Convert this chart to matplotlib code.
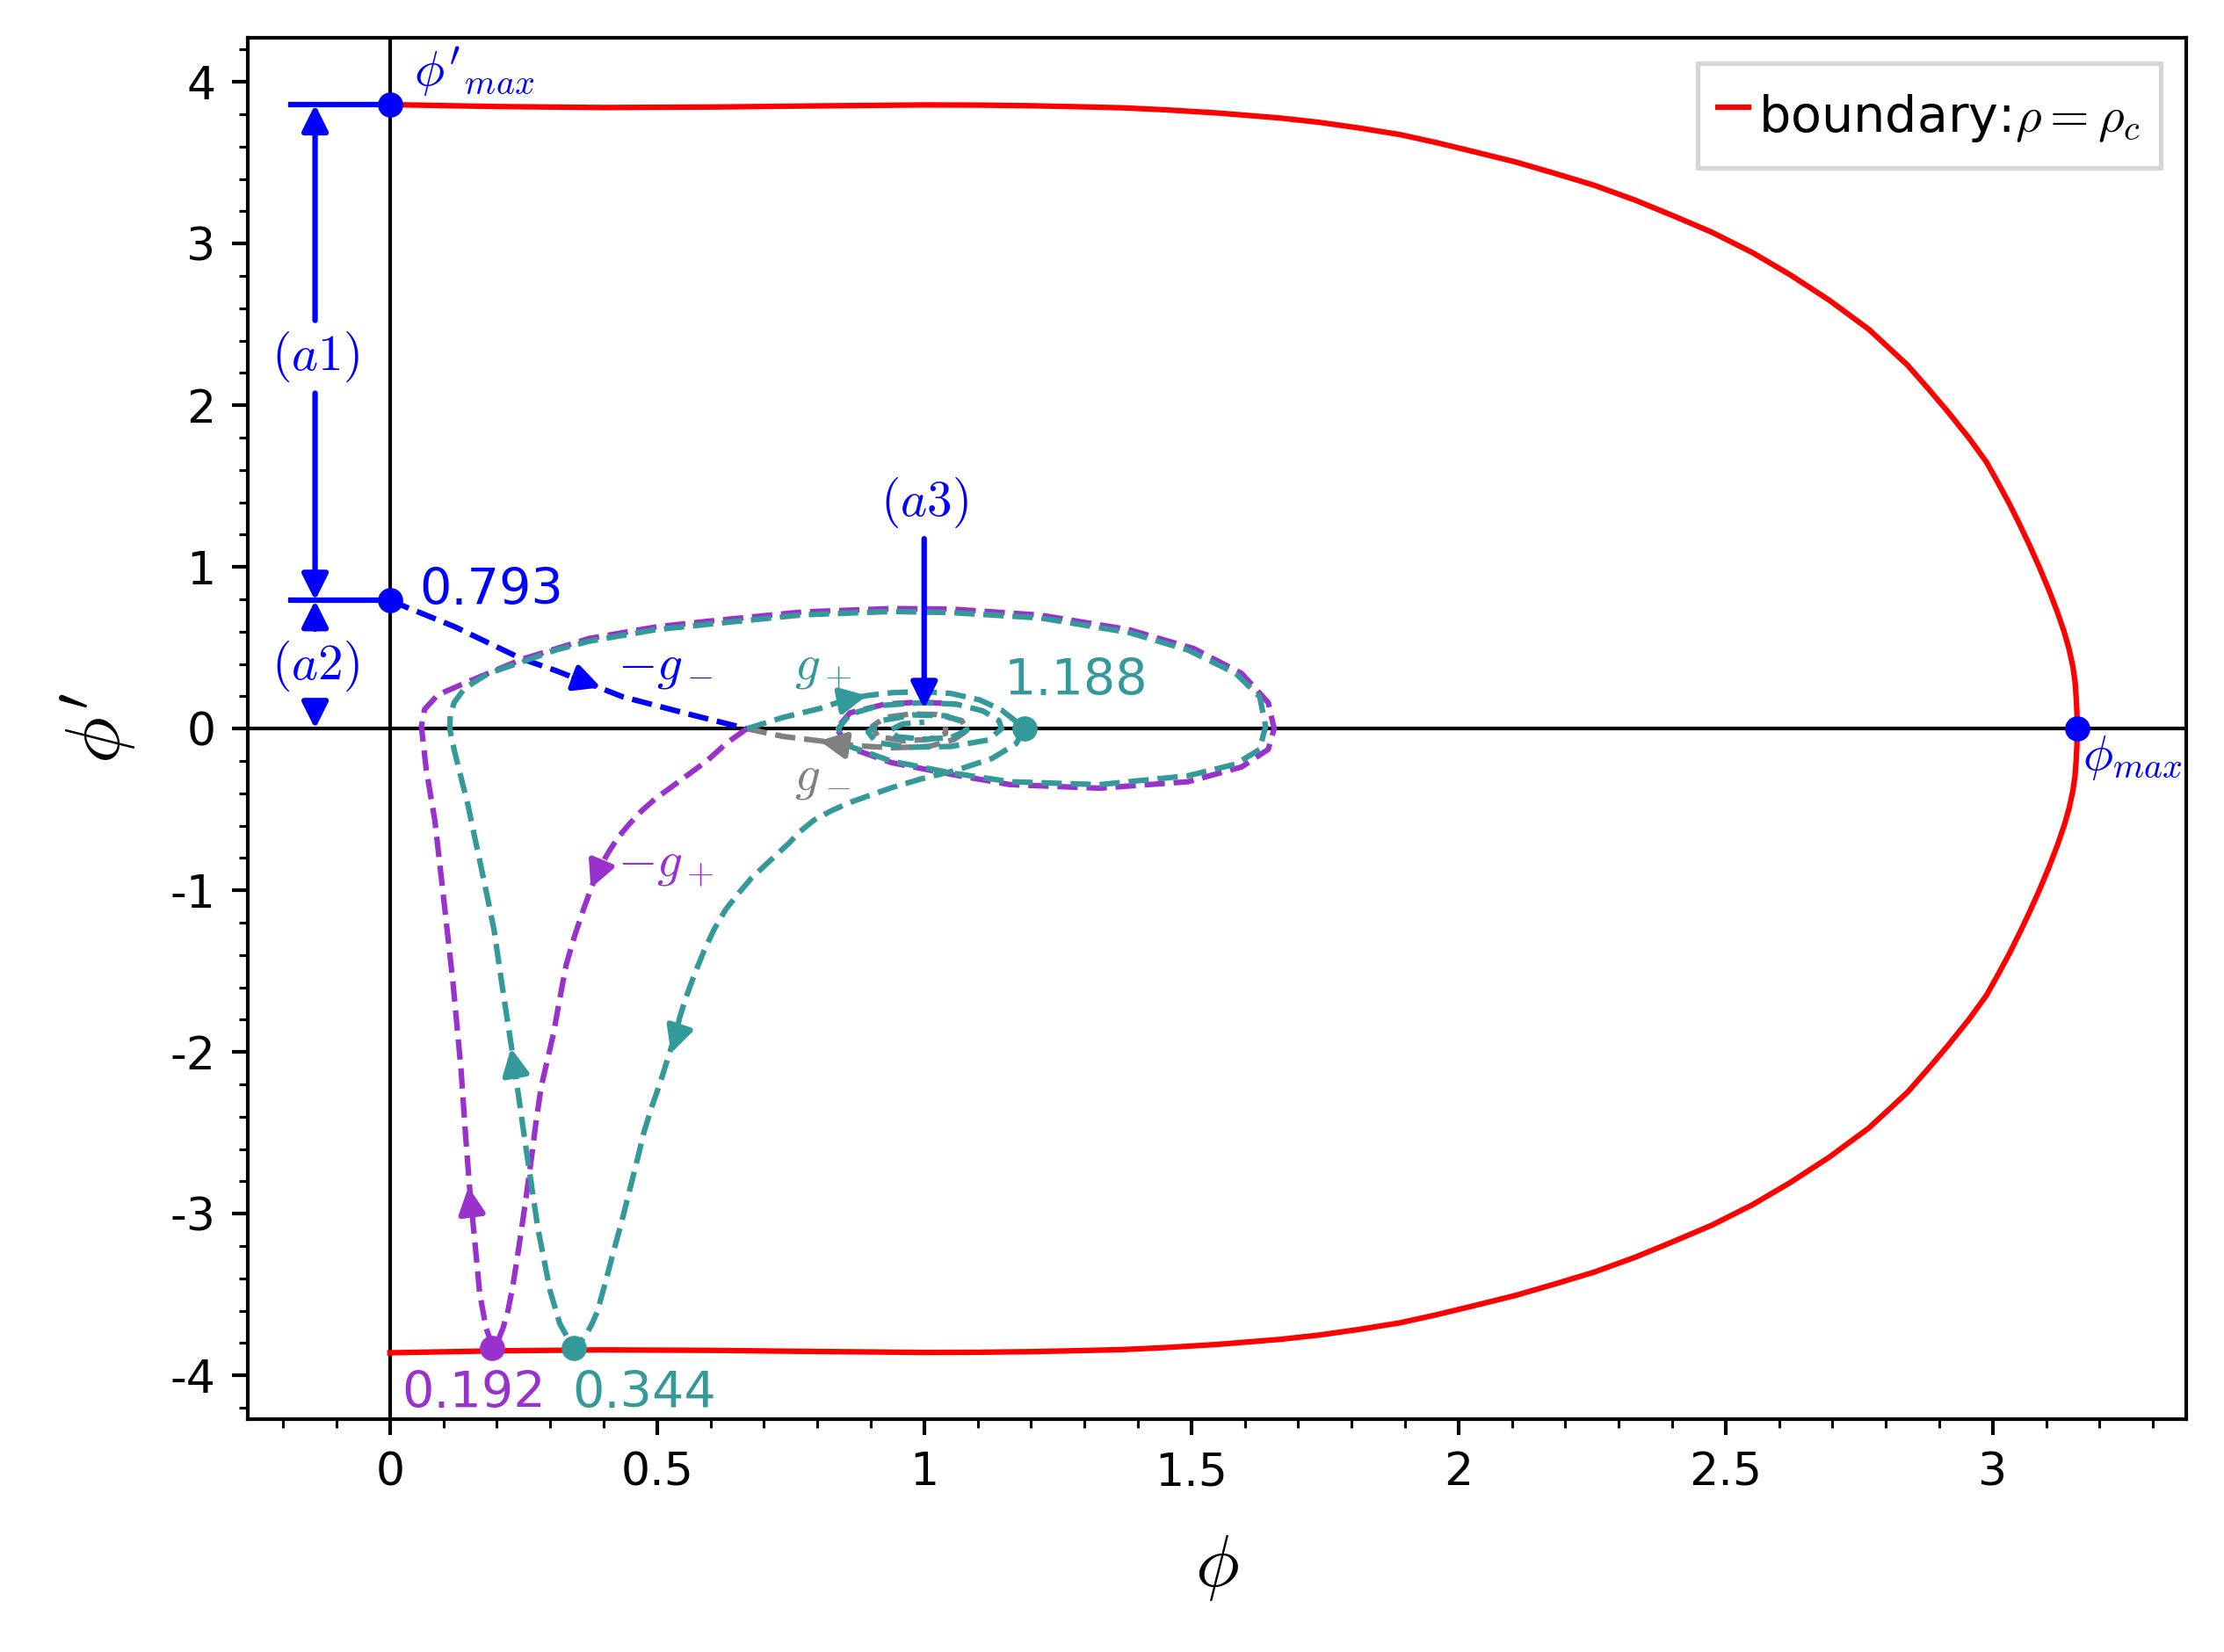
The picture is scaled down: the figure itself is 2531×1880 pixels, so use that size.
import matplotlib.pyplot as plt
from matplotlib.ticker import MultipleLocator

plt.rcParams['mathtext.fontset'] = 'cm'
plt.rcParams['axes.unicode_minus'] = False

teal = '#339999'
purple = '#9932cc'

# boundary rho = rho_c, upper half (the lower half is its mirror image)
bnd_phi = [0, 0.2, 0.4, 0.6, 0.8, 1.0, 1.1, 1.2, 1.3, 1.373, 1.45, 1.55, 1.666,
           1.74, 1.813, 1.89, 1.96, 2.03, 2.107, 2.18, 2.254, 2.33, 2.40, 2.474,
           2.55, 2.621, 2.694, 2.768, 2.84, 2.88, 2.915, 2.955, 2.988, 3.01, 3.032,
           3.05, 3.068, 3.087, 3.105, 3.121, 3.134, 3.143, 3.150, 3.154, 3.156,
           3.1575, 3.158]
bnd_dphi = [3.86, 3.848, 3.842, 3.845, 3.852, 3.858, 3.857, 3.853, 3.846, 3.84,
            3.828, 3.808, 3.777, 3.75, 3.716, 3.675, 3.624, 3.568, 3.505, 3.435,
            3.361, 3.27, 3.175, 3.071, 2.945, 2.807, 2.65, 2.47, 2.25, 2.10,
            1.964, 1.80, 1.65, 1.52, 1.385, 1.265, 1.14, 1.0, 0.858, 0.72, 0.595,
            0.49, 0.383, 0.29, 0.198, 0.1, 0.0]

# -g_- : from 0.793 down to the saddle
blue_phi = [0.0, 0.121, 0.247, 0.31, 0.436, 0.562, 0.668]
blue_dphi = [0.793, 0.631, 0.432, 0.36, 0.197, 0.088, 0.0]

# g_- : saddle into the centre
gray_phi = [0.668, 0.736, 0.804, 0.872, 0.941, 1.009, 1.056, 1.08, 1.07, 1.022,
            0.975, 0.927, 0.903, 0.913, 0.961, 1.009, 1.04, 1.04]
gray_dphi = [0.0, -0.048, -0.075, -0.105, -0.118, -0.11, -0.067, -0.012, 0.051,
             0.088, 0.091, 0.07, 0.015, -0.048, -0.075, -0.066, -0.03, 0.01]

# g_+ : saddle -> 1.188 -> 0.344 (bounce) -> big loop -> centre
teal_phi = [0.668, 0.736, 0.804, 0.852, 0.893, 0.941, 0.995, 1.05, 1.104, 1.145,
            1.173, 1.188,
            1.172, 1.127, 1.061, 0.994, 0.939, 0.861, 0.826, 0.794, 0.768, 0.747,
            0.712, 0.677, 0.652, 0.629, 0.607, 0.588, 0.57, 0.553, 0.543, 0.535,
            0.52, 0.506, 0.49, 0.476, 0.462, 0.447, 0.433, 0.418, 0.403, 0.388,
            0.377, 0.365, 0.355, 0.344,
            0.318, 0.30, 0.277, 0.253, 0.23, 0.212, 0.195, 0.183, 0.171, 0.158,
            0.146, 0.133, 0.121, 0.112, 0.113, 0.12, 0.14, 0.1845, 0.248, 0.311,
            0.373, 0.499, 0.605, 0.772, 0.939, 1.05, 1.217, 1.383, 1.494, 1.583,
            1.628, 1.639, 1.628, 1.583, 1.494, 1.328, 1.161, 1.05, 0.939, 0.861,
            0.839, 0.861, 0.916, 0.994, 1.06, 1.11, 1.14, 1.145, 1.12, 1.05, 0.97,
            0.91, 0.895, 0.92, 0.98, 1.04, 1.075, 1.08, 1.05, 1.0, 0.95, 0.935,
            0.96, 1.0]
teal_dphi = [0.0, 0.07, 0.124, 0.178, 0.205, 0.223, 0.229, 0.218, 0.178, 0.115,
             0.042, 0.0,
             -0.093, -0.184, -0.256, -0.311, -0.365, -0.456, -0.508, -0.565, -0.635,
             -0.708, -0.815, -0.923, -1.02, -1.116, -1.24, -1.374, -1.52, -1.674,
             -1.78, -1.889, -2.04, -2.19, -2.34, -2.49, -2.68, -2.877, -3.06, -3.24,
             -3.43, -3.608, -3.69, -3.758, -3.8, -3.833,
             -3.68, -3.478, -3.09, -2.554, -2.02, -1.631, -1.245, -1.05, -0.86,
             -0.66, -0.47, -0.30, -0.14, 0.0, 0.08, 0.16, 0.251, 0.342, 0.414,
             0.487, 0.541, 0.613, 0.649, 0.704, 0.725, 0.718, 0.685, 0.595, 0.486,
             0.342, 0.197, 0.016, -0.128, -0.219, -0.291, -0.346, -0.328, -0.273,
             -0.201, -0.11, 0.0, 0.089, 0.143, 0.161, 0.152, 0.11, 0.05, 0.0, -0.07,
             -0.11, -0.115, -0.085, -0.02, 0.05, 0.085, 0.08, 0.04, -0.01, -0.055,
             -0.065, -0.05, -0.01, 0.03, 0.04]

# -g_+ : saddle -> 0.192 (bounce) -> big loop -> centre
purple_phi = [0.668, 0.63, 0.594, 0.56, 0.527, 0.498, 0.472, 0.448, 0.427, 0.41,
              0.396, 0.384, 0.372, 0.36, 0.345, 0.33, 0.318, 0.306, 0.294, 0.283,
              0.274, 0.266, 0.257, 0.248, 0.239, 0.23, 0.221, 0.212, 0.203, 0.193,
              0.18, 0.168, 0.159, 0.15, 0.142, 0.133, 0.118, 0.10, 0.084, 0.068,
              0.059, 0.065, 0.09, 0.153, 0.248, 0.373, 0.499, 0.605, 0.772, 0.939,
              1.05, 1.216, 1.383, 1.505, 1.594, 1.644, 1.655, 1.644, 1.594, 1.494,
              1.328, 1.161, 1.05, 0.939, 0.861, 0.836, 0.861, 0.927, 0.994, 1.06]
purple_dphi = [0.0, -0.09, -0.197, -0.28, -0.361, -0.43, -0.506, -0.59, -0.673,
               -0.76, -0.84, -0.923, -1.03, -1.14, -1.29, -1.46, -1.67, -1.889,
               -2.06, -2.22, -2.42, -2.63, -2.85, -3.06, -3.26, -3.45, -3.6, -3.705,
               -3.78, -3.83,
               -3.705, -3.49, -3.17, -2.87, -2.53, -2.1, -1.567, -1.03, -0.564,
               -0.25, 0.014, 0.12, 0.21, 0.30, 0.43, 0.558, 0.63, 0.668, 0.722,
               0.743, 0.74, 0.703, 0.613, 0.495, 0.342, 0.161, 0.0, -0.128, -0.237,
               -0.328, -0.368, -0.346, -0.282, -0.21, -0.119, 0.0, 0.098, 0.152,
               0.165, 0.152]

# direction arrows on the curves: (tail, tip)
arrows = [
    ((0.345, 0.315), (0.395, 0.255), 'b'),
    ((0.852, 0.178), (0.893, 0.205), teal),
    ((0.846, -0.098), (0.804, -0.075), 'gray'),
    ((0.233, -2.093), (0.2266, -1.975), teal),
    ((0.538, -1.889), (0.526, -2.008), teal),
    ((0.152, -2.963), (0.147, -2.834), purple),
    ((0.391, -0.869), (0.376, -0.987), purple),
]

dphi_max = 3.86
dphi_0 = 0.793
phi_max = 3.158
phi_sp = 1.188
phi_bounce = [0.192, 0.344]
dphi_bounce = -3.83

xticks = [0, 0.5, 1, 1.5, 2, 2.5, 3]
xticklabels = ['0', '0.5', '1', '1.5', '2', '2.5', '3']
yticks = [-4, -3, -2, -1, 0, 1, 2, 3, 4]
yticklabels = ['-4', '-3', '-2', '-1', '0', '1', '2', '3', '4']


def main():
  dpi = 375
  fig = plt.figure(figsize=(2531/dpi, 1880/dpi), dpi=dpi)
  ax = fig.add_axes([0.1114, 0.141, 0.8716, 0.8362])

  ax.axhline(0, color='black', lw=0.8, zorder=1)
  ax.axvline(0, color='black', lw=0.8, zorder=1)

  full_phi = bnd_phi + bnd_phi[::-1][1:]
  full_dphi = bnd_dphi + [-v for v in bnd_dphi[::-1][1:]]
  ax.plot(full_phi, full_dphi, color='r', lw=1.2, label=r'boundary:$\rho=\rho_c$', zorder=3)

  ax.plot(blue_phi, blue_dphi, '--', color='b', lw=1.2)
  ax.plot(gray_phi, gray_dphi, '--', color='gray', lw=1.2)
  ax.plot(purple_phi, purple_dphi, '--', color=purple, lw=1.2)
  ax.plot(teal_phi, teal_dphi, '--', color=teal, lw=1.2)

  for p0, p1, c in arrows:
    ax.annotate('', xy=p1, xytext=p0,
                arrowprops=dict(arrowstyle='-|>', color=c, lw=1.2,
                                mutation_scale=12, shrinkA=0, shrinkB=0))

  # markers
  ms = 4.5
  ax.plot([0, 0, phi_max], [dphi_max, dphi_0, 0], 'o', color='b', ms=ms, zorder=5)
  ax.plot([phi_sp], [0], 'o', color=teal, ms=ms, zorder=5)
  ax.plot([phi_bounce[0]], [dphi_bounce], 'o', color=purple, ms=ms, zorder=5)
  ax.plot([phi_bounce[1]], [dphi_bounce], 'o', color=teal, ms=ms, zorder=5)

  # value labels
  ax.text(0.045, 3.9, r"$\phi'_{max}$", color='b', fontsize=11, ha='left', va='bottom')
  ax.text(0.056, 0.77, '%.3f' % dphi_0, color='b', fontsize=11, va='baseline')
  ax.text(1.15, 0.21, '%.3f' % phi_sp, color=teal, fontsize=11, va='baseline')
  ax.text(0.023, -4.2, '%.3f' % phi_bounce[0], color=purple, fontsize=11, va='baseline')
  ax.text(0.342, -4.2, '%.3f' % phi_bounce[1], color=teal, fontsize=11, va='baseline')
  ax.text(3.168, -0.03, r'$\phi_{max}$', color='b', fontsize=11, ha='left', va='top')

  ax.text(0.427, 0.385, r'$-g_-$', color='b', fontsize=11, va='center')
  ax.text(0.757, 0.38, r'$g_+$', color=teal, fontsize=11, va='center')
  ax.text(0.757, -0.30, r'$g_-$', color='gray', fontsize=11, va='center')
  ax.text(0.426, -0.84, r'$-g_+$', color=purple, fontsize=11, va='center')

  # (a1), (a2), (a3) intervals
  xa = -0.14
  ax.plot([-0.185, 0], [dphi_max, dphi_max], color='b', lw=1.2)
  ax.plot([-0.185, 0], [dphi_0, dphi_0], color='b', lw=1.2)
  aprops = dict(arrowstyle='-|>', color='b', lw=1.2, mutation_scale=12, shrinkA=0, shrinkB=0)
  for lab, yc, ends in [('$(a1)$', 2.3, (dphi_max, dphi_0)), ('$(a2)$', 0.39, (dphi_0, 0))]:
    ax.annotate(lab, xy=(xa, ends[0]), xytext=(xa, yc), color='b', fontsize=11,
                ha='center', va='center', arrowprops=aprops)
    ax.annotate(lab, xy=(xa, ends[1]), xytext=(xa, yc), color='none', fontsize=11,
                ha='center', va='center', arrowprops=aprops)
  ax.annotate('$(a3)$', xy=(1.0, 0.124), xytext=(1.0, 1.40), color='b', fontsize=11,
              ha='center', va='center', arrowprops=aprops)

  ax.set_xlim(-0.266, 3.362)
  ax.set_ylim(-4.27, 4.274)
  ax.set_xticks(xticks)
  ax.set_xticklabels(xticklabels)
  ax.set_yticks(yticks)
  ax.set_yticklabels(yticklabels)
  ax.xaxis.set_minor_locator(MultipleLocator(0.1))
  ax.yaxis.set_minor_locator(MultipleLocator(0.2))
  ax.tick_params(labelsize=10)

  ax.set_xlabel(r'$\phi$', fontsize=16, labelpad=8)
  ax.set_ylabel(r"$\phi'$", fontsize=17, labelpad=7)

  ax.legend(loc='upper right', fancybox=False, fontsize=11, handlelength=0.6,
            handletextpad=0.2, handleheight=1.6, edgecolor='0.8')

  fig.savefig('out.png', dpi=dpi)


if __name__ == '__main__':
  main()
